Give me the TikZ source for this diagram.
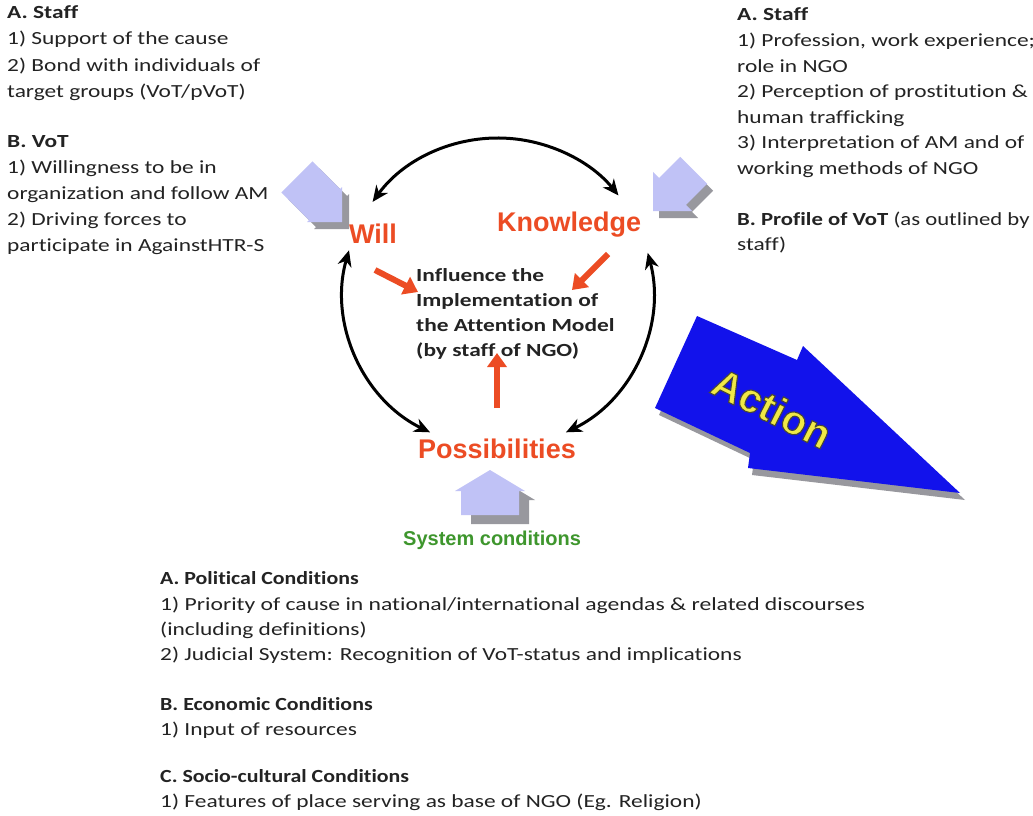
\documentclass[tikz,border=0pt]{standalone}
\usepackage{fontspec}
\setmainfont{Carlito}[FakeStretch=1.265, Ligatures=NoCommon]
\newfontfamily\arialfont{Liberation Sans}
\usetikzlibrary{arrows.meta}
\definecolor{lav}{RGB}{192,194,246}
\definecolor{shd}{RGB}{152,152,158}
\definecolor{redor}{RGB}{236,76,36}
\definecolor{actblue}{RGB}{18,18,235}
\definecolor{sysgreen}{RGB}{62,150,45}
\definecolor{txtc}{RGB}{35,35,35}
\definecolor{actyel}{RGB}{240,232,70}

\newcommand\blockarrow[9]{%
  \begin{scope}[shift={(#1+#8,#2+#9)},rotate=#3]
    \fill[shd] (0,0) -- (-#4,#5) -- (-#4,#6) -- (-#4-#7,#6) -- (-#4-#7,-#6) -- (-#4,-#6) -- (-#4,-#5) -- cycle;
  \end{scope}
  \begin{scope}[shift={(#1,#2)},rotate=#3]
    \fill[lav] (0,0) -- (-#4,#5) -- (-#4,#6) -- (-#4-#7,#6) -- (-#4-#7,-#6) -- (-#4,-#6) -- (-#4,-#5) -- cycle;
  \end{scope}}

\tikzset{
  txt/.style={anchor=base west, inner sep=0pt, font=\fontsize{18.5}{25}\selectfont, text=txtc},
  hd/.style={txt, font=\bfseries\fontsize{18.5}{25}\selectfont},
  key/.style={anchor=base west, inner sep=0pt, font=\arialfont\bfseries\fontsize{27}{30}\selectfont, text=redor},
  cyc/.style={line width=3pt, black, {Stealth[length=16pt,width=14pt,inset=5pt]}-{Stealth[length=16pt,width=14pt,inset=5pt]}},
  infl/.style={line width=6pt, redor, -{Triangle[length=14pt,width=19pt]}},
}

\begin{document}
\begin{tikzpicture}[x=1pt,y=-1pt]
\useasboundingbox (0,0) rectangle (1033,816);
\fill[white] (0,0) rectangle (1033,816);

% block arrows
\blockarrow{342}{222}{-45}{24.7}{24.7}{22}{39}{7}{7}
\blockarrow{653}{211}{-135}{27.6}{27.6}{19}{30}{6}{7}
\blockarrow{490}{470}{90}{21}{35}{29}{24}{10}{9}

% Action arrow
\fill[shd] (701,323) -- (801,367) -- (807,352) -- (965,500) -- (752,475) -- (754,460) -- (659,415) -- cycle;
\fill[actblue] (697,316) -- (797,360) -- (803,346) -- (960,493) -- (748,468) -- (750,453) -- (655,408) -- cycle;
\node[rotate=-27, inner sep=0pt, font=\arialfont\bfseries\fontsize{41}{44}\selectfont, text=actyel] (act) at (772,408)
  {\special{pdf:literal direct 2 Tr 1.1 w 0.28 0.28 0.22 RG}Action\special{pdf:literal direct 0 Tr}};

% key nodes
\node[key] (will) at (349,243) {Will};
\node[key] (know) at (497,231) {Knowledge};
\node[key] (poss) at (418,458) {Possibilities};
\node[anchor=base west, inner sep=0pt, font=\arialfont\bfseries\fontsize{20}{22}\selectfont, text=sysgreen] (sys) at (403,545) {System conditions};

% centre text
\node[hd] (c1) at (416,281) {Influence the};
\node[hd] (c2) at (416,306) {Implementation of};
\node[hd] (c3) at (416,331) {the Attention Model};
\node[hd] (c4) at (416,356) {(by staff of NGO)};

% cycle
\coordinate (cc) at (498,293);
\coordinate (tA) at ([shift={(-144:155)}]cc);
\coordinate (lA) at ([shift={(196:155)}]cc);
\coordinate (rA) at ([shift={(-15:155)}]cc);
\draw[cyc] (tA) arc[start angle=-144, end angle=-39, radius=155];
\draw[cyc] (lA) arc[start angle=196, end angle=116, radius=155];
\draw[cyc] (rA) arc[start angle=-15, end angle=64, radius=155];

% influence arrows
\coordinate (wt) at (375,270); \coordinate (wh) at (418,292);
\coordinate (kt) at (608,254); \coordinate (kh) at (572,290);
\coordinate (pt) at (497,408); \coordinate (ph) at (497,353);
\draw[infl] (wt) -- (wh);
\draw[infl] (kt) -- (kh);
\draw[infl] (pt) -- (ph);

% top-left text
\node[hd]  (l1) at (7,19)  {A. Staff};
\node[txt] (l2) at (7,45)  {1) Support of the cause};
\node[txt] (l3) at (7,71)  {2) Bond with individuals of};
\node[txt] (l4) at (7,97)  {target groups (VoT/pVoT)};
\node[hd]  (l5) at (7,147) {B. VoT};
\node[txt] (l6) at (7,173) {1) Willingness to be in};
\node[txt] (l7) at (7,199) {organization and follow AM};
\node[txt] (l8) at (7,225) {2) Driving forces to};
\node[txt] (l9) at (7,251) {participate in AgainstHTR-S};

% top-right text
\node[hd]  (r1) at (737,21)    {A. Staff};
\node[txt] (r2) at (737,46.5)  {1) Profession, work experience;};
\node[txt] (r3) at (737,72)    {role in NGO};
\node[txt] (r4) at (737,97.5)  {2) Perception of prostitution \&};
\node[txt] (r5) at (737,123)   {human trafficking};
\node[txt] (r6) at (737,148.5) {3) Interpretation of AM and of};
\node[txt] (r7) at (737,174)   {working methods of NGO};
\node[txt] (r8) at (737,225)   {\scalebox{0.97}[1]{\textbf{B. Profile of VoT} (as outlined by}};
\node[txt] (r9) at (737,250.5) {staff)};

% bottom text
\node[hd]  (b1) at (160,584) {\scalebox{0.935}[1]{A. Political Conditions}};
\node[txt] (b2) at (160,610) {\scalebox{1.01}[1]{1) Priority of cause in national/international agendas \& related discourses}};
\node[txt] (b3) at (160,635) {(including definitions)};
\node[txt] (b4) at (160,660) {2) Judicial System: Recognition of VoT-status and implications};
\node[hd]  (b5) at (160,710) {\scalebox{0.935}[1]{B. Economic Conditions}};
\node[txt] (b6) at (160,735) {1) Input of resources};
\node[hd]  (b7) at (160,782) {\scalebox{0.935}[1]{C. Socio-cultural Conditions}};
\node[txt] (b8) at (160,807) {1) Features of place serving as base of NGO (Eg. Religion)};
\end{tikzpicture}
\end{document}
